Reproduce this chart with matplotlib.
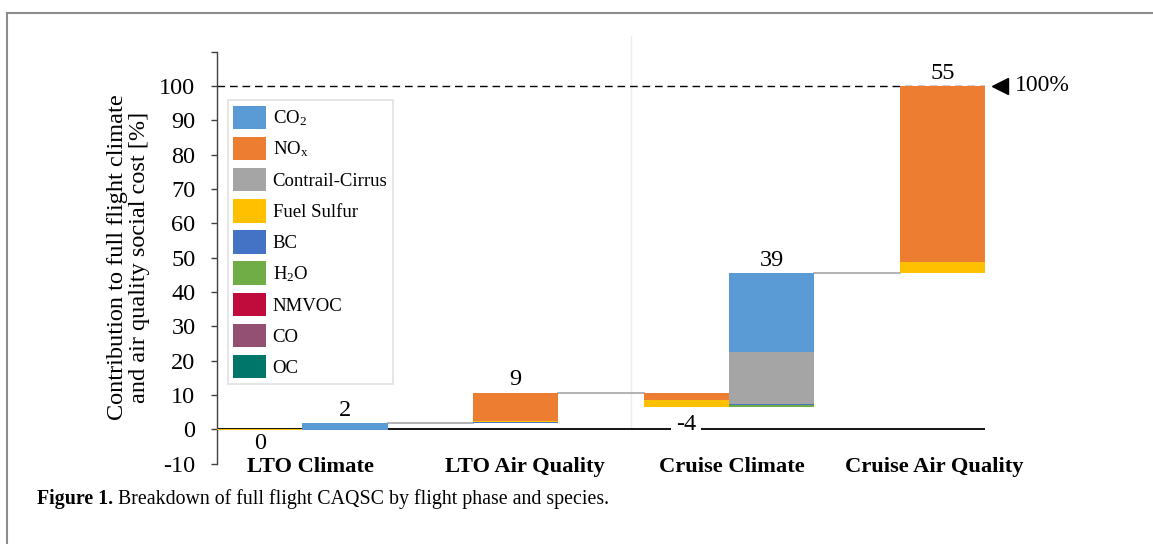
import matplotlib
matplotlib.use('Agg')
import matplotlib.pyplot as plt
from matplotlib.lines import Line2D
from matplotlib.patches import Patch
import numpy as np

plt.rcParams['font.family'] = ['Liberation Serif', 'DejaVu Sans']
plt.rcParams['mathtext.fontset'] = 'custom'
plt.rcParams['mathtext.rm'] = 'Liberation Serif'
plt.rcParams['mathtext.it'] = 'Liberation Serif:italic'
plt.rcParams['mathtext.bf'] = 'Liberation Serif:bold'

# ---------------- data ----------------
phases = ["LTO Climate", "LTO Air Quality", "Cruise Climate", "Cruise Air Quality"]
species = ["CO$_2$", "NO$_\\mathrm{x}$", "Contrail-Cirrus", "Fuel Sulfur", "BC",
           "H$_2$O", "NMVOC", "CO", "OC"]
colors = ["#5B9BD5", "#ED7D31", "#A5A5A5", "#FFC000", "#4472C4",
          "#70AD47", "#C00C3C", "#935073", "#00766A"]

# negative and positive contributions per phase, in species order
lto_climate_neg = [0, 0, 0, -0.3, 0, 0, 0, 0, 0]
lto_climate_pos = [2.0, 0, 0, 0, 0.2, 0, 0, 0, 0]
lto_aq_neg = [0, 0, 0, 0, 0, 0, 0, 0, 0]
lto_aq_pos = [0, 8.3, 0, 0.3, 0.2, 0, 0, 0, 0]
cruise_climate_neg = [0, -2.2, 0, -2.0, 0, 0, 0, 0, 0]
cruise_climate_pos = [23.0, 0, 15.0, 0, 0.2, 0.7, 0, 0, 0]
cruise_aq_neg = [0, 0, 0, 0, 0, 0, 0, 0, 0]
cruise_aq_pos = [0, 51.4, 0, 3.0, 0.2, 0, 0, 0, 0]

neg_sets = [lto_climate_neg, lto_aq_neg, cruise_climate_neg, cruise_aq_neg]
pos_sets = [lto_climate_pos, lto_aq_pos, cruise_climate_pos, cruise_aq_pos]

yticks = list(range(-10, 111, 10))
ytick_labels = [str(t) if t <= 100 else "" for t in yticks]

# ---------------- figure ----------------
W, H = 1153, 544
fig = plt.figure(figsize=(W / 100, H / 100), dpi=100)


def fx(px):
    return px / W


def fy(py):
    return 1 - py / H


FS = 17.5

ax = fig.add_axes([fx(217), fy(463.6), fx(985) - fx(217), fy(51.5) - fy(463.6)])
ax.set_xlim(-0.5, 8.5)
ax.set_ylim(-10, 110)

for s in ["top", "right", "bottom"]:
    ax.spines[s].set_visible(False)
ax.spines["left"].set_color("#404040")
ax.spines["left"].set_linewidth(1.0)
ax.set_xticks([])
ax.set_yticks(yticks)
ax.set_yticklabels(ytick_labels)
ax.tick_params(axis='y', direction='out', length=4.5, width=1.0, color="#404040",
               pad=11, labelsize=FS)

# zero line
ax.plot([-0.5, 8.5], [0, 0], color="black", lw=1.3, zorder=1, solid_capstyle='butt')

# faint separator line
ax.plot([4.35, 4.35], [0, 114.5], color="#ededed", lw=1.0, zorder=0, clip_on=False)

# dashed 100% line
ax.plot([-0.5, 8.5], [100, 100], color="black", lw=1.0, ls=(0, (5.5, 3.5)), zorder=1)
ax.plot([8.676], [100], marker='<', ms=12, color='black', clip_on=False, zorder=5)
ax.text(8.85, 100, "100%", fontsize=17, ha='left', va='center', clip_on=False)

# waterfall
neg_slots = [0, 2, 5, 7]
pos_slots = [1, 3, 6, 8]
order = list(range(len(species)))[::-1]
level = 0.0
prev_right = None
for p in range(len(phases)):
    neg = np.array(neg_sets[p], dtype=float)
    pos = np.array(pos_sets[p], dtype=float)
    nsum = neg.sum()
    psum = pos.sum()
    # negative bar
    if np.any(neg != 0):
        xs = neg_slots[p]
        if prev_right is not None and prev_right < xs - 0.5:
            ax.plot([prev_right, xs - 0.5], [level, level], color="#A5A5A5", lw=1.2, zorder=1)
        base = level + nsum
        b = base
        for i in order:
            v = -neg[i]
            if v > 0:
                ax.bar(xs, v, bottom=b, width=1.0, color=colors[i], linewidth=0, zorder=3)
                b += v
        level = base
        prev_right = xs + 0.5
        lab = f"{int(round(nsum))}"
        if p == 0:
            ax.text(xs, -4.1, lab, fontsize=FS, ha='center', va='center', zorder=6)
        else:
            ax.text(xs, -0.3, lab, fontsize=FS, ha='center', va='baseline', zorder=6,
                    bbox=dict(facecolor='white', edgecolor='none', pad=3.5))
    # positive bar
    xs = pos_slots[p]
    if prev_right is not None and prev_right < xs - 0.5:
        ax.plot([prev_right, xs - 0.5], [level, level], color="#A5A5A5", lw=1.2, zorder=1)
    b = level
    for i in order:
        v = pos[i]
        if v > 0:
            ax.bar(xs, v, bottom=b, width=1.0, color=colors[i], linewidth=0, zorder=3)
            b += v
    level = b
    prev_right = xs + 0.5
    ax.annotate(f"{int(round(psum))}", xy=(xs, level), xytext=(0, 1.5),
                textcoords='offset points', ha='center', va='bottom', fontsize=FS, zorder=6)

# category labels
cat_x = [0.596, 3.11, 5.53, 7.91]
for x, name in zip(cat_x, phases):
    ax.text(x, -11.0, name, fontsize=16.2, fontweight='bold', ha='center', va='center',
            clip_on=False)

# y label
fig.text(fx(128.5), fy(257), "Contribution to full flight climate\nand air quality social cost [%]",
         rotation=90, fontsize=FS, ha='center', va='center', multialignment='center',
         linespacing=1.0)

# legend
handles = [Patch(facecolor=c, edgecolor='none') for c in colors]
leg = fig.legend(handles, species, loc='upper left',
                 bbox_to_anchor=(fx(227.5), fy(100)), bbox_transform=fig.transFigure,
                 fontsize=13.5, handlelength=1.76, handleheight=1.55, labelspacing=0.41,
                 handletextpad=0.35, borderpad=0.3, borderaxespad=0, fancybox=False,
                 frameon=True)
leg.get_frame().set_edgecolor("#D9D9D9")
leg.get_frame().set_linewidth(1.2)

# caption
t1 = fig.text(fx(37), fy(504), "Figure 1.", fontsize=14.3, fontweight='bold',
              ha='left', va='baseline')
ax.annotate(" Breakdown of full flight CAQSC by flight phase and species.",
            xy=(1, 0), xycoords=t1, fontsize=14.3, ha='left', va='bottom',
            annotation_clip=False)

# frame lines
fig.add_artist(Line2D([fx(7), 1.0], [fy(12.5), fy(12.5)], transform=fig.transFigure,
                      color="#8C8C8C", lw=1.5))
fig.add_artist(Line2D([fx(7), fx(7)], [fy(12.5), 0], transform=fig.transFigure,
                      color="#8C8C8C", lw=1.5))

fig.savefig("out.png", dpi=100)
